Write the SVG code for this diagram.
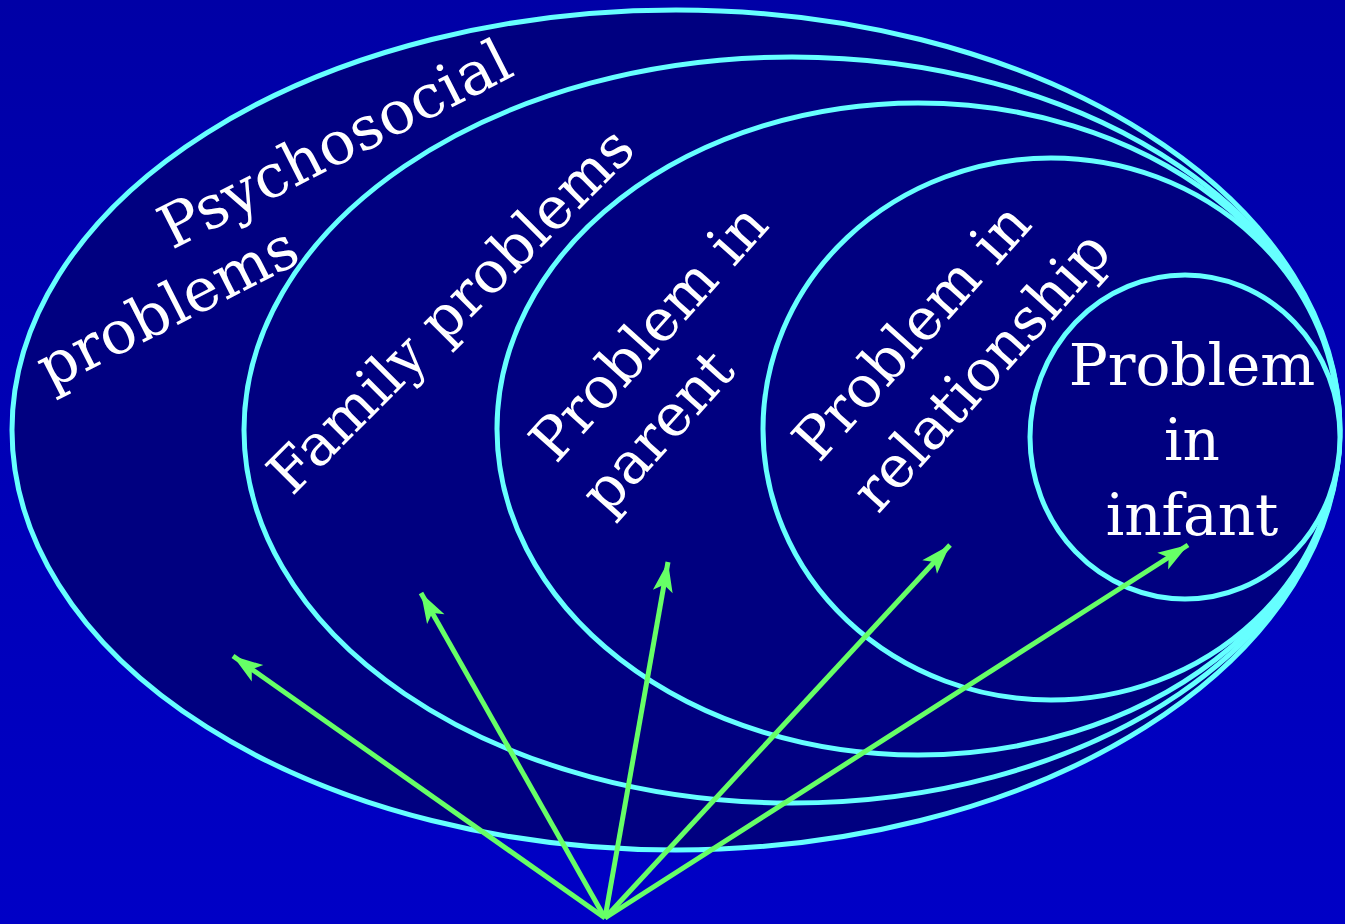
<svg xmlns="http://www.w3.org/2000/svg" width="1345" height="924" viewBox="0 0 1345 924">
<defs>
<linearGradient id="bg" x1="0" y1="0" x2="0" y2="1">
<stop offset="0" stop-color="#0000a6"/>
<stop offset="1" stop-color="#0000c6"/>
</linearGradient>
<marker id="ah" markerUnits="userSpaceOnUse" markerWidth="34" markerHeight="24" refX="30" refY="12" orient="auto" overflow="visible">
<path d="M0,2 L30,12 L0,22 L7,12 Z" fill="#66ff66"/>
</marker>
<style>
.ring{fill:#000080;stroke:#66ffff;stroke-width:5}
.lbl{fill:#ffffff;font-family:"DejaVu Serif","Liberation Serif",serif;font-size:58px}
.rot{font-size:60px}
.arr{stroke:#66ff66;stroke-width:5;fill:none}
</style>
</defs>
<rect width="1345" height="924" fill="url(#bg)"/>
<g id="psychosocial">
<ellipse class="ring" cx="676" cy="430" rx="664" ry="420"/>
<text class="lbl rot" transform="translate(172,250) rotate(-27)">Psychosocial</text>
<text class="lbl rot" transform="translate(50,390) rotate(-27)">problems</text>
</g>
<g id="family">
<ellipse class="ring" cx="792" cy="430" rx="548" ry="373"/>
<text class="lbl" transform="translate(292,497) rotate(-45)">Family problems</text>
</g>
<g id="parent">
<ellipse class="ring" cx="918" cy="429" rx="421" ry="326"/>
<text class="lbl" transform="translate(556,465) rotate(-48)">Problem in</text>
<text class="lbl" transform="translate(607,517) rotate(-48)">parent</text>
</g>
<g id="relationship">
<ellipse class="ring" cx="1051" cy="429" rx="288" ry="271"/>
<text class="lbl" transform="translate(819,464) rotate(-48)">Problem in</text>
<text class="lbl" transform="translate(878,515) rotate(-48)">relationship</text>
</g>
<g id="infant">
<ellipse class="ring" cx="1185" cy="437" rx="155" ry="162"/>
<text class="lbl" text-anchor="middle" x="1192" y="385">Problem</text>
<text class="lbl" text-anchor="middle" x="1192" y="460">in</text>
<text class="lbl" text-anchor="middle" x="1192" y="535">infant</text>
</g>
<g id="connectors">
<line class="arr" marker-end="url(#ah)" x1="605" y1="918" x2="233" y2="656"/>
<line class="arr" marker-end="url(#ah)" x1="605" y1="918" x2="421" y2="593"/>
<line class="arr" marker-end="url(#ah)" x1="605" y1="918" x2="668" y2="562"/>
<line class="arr" marker-end="url(#ah)" x1="605" y1="918" x2="950" y2="545"/>
<line class="arr" marker-end="url(#ah)" x1="605" y1="918" x2="1188" y2="545"/>
</g>
</svg>
